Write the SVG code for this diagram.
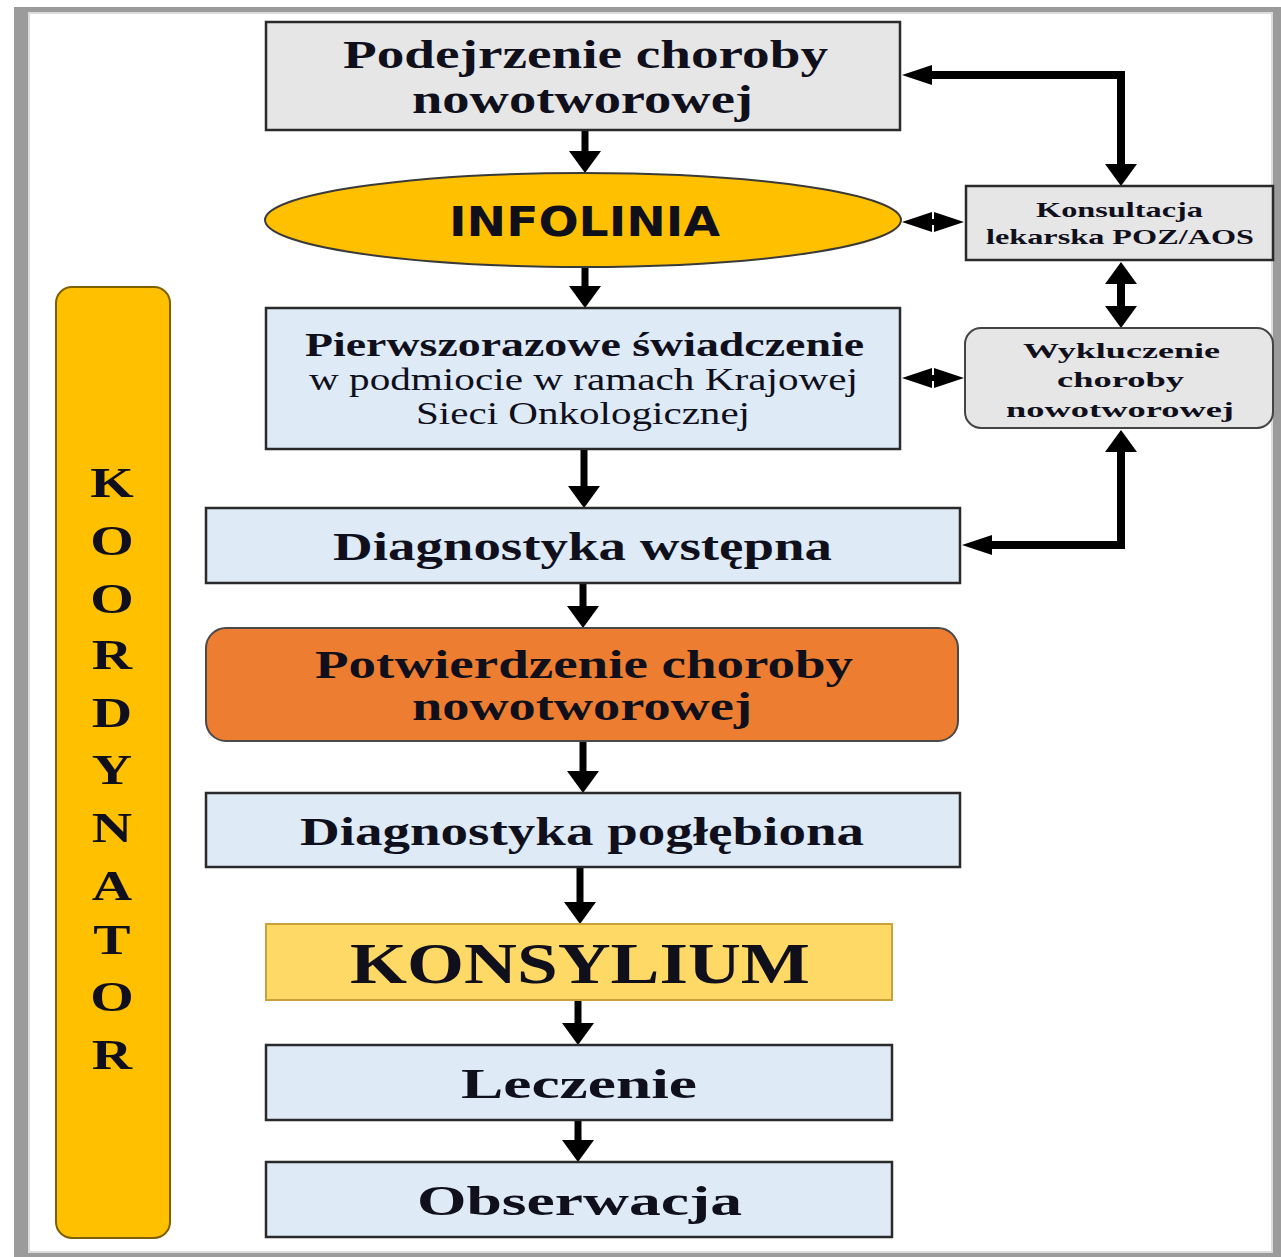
<svg xmlns="http://www.w3.org/2000/svg" width="1281" height="1257" viewBox="0 0 1281 1257">
<style>
.box{stroke:#2a2a2a;stroke-width:2.5}
.grey{fill:#e6e6e6}
.blue{fill:#deeaf6}
.t{font-family:"Liberation Serif","Times New Roman",serif;font-weight:bold;fill:#10101c}
.r{font-family:"Liberation Serif","Times New Roman",serif;font-weight:normal;fill:#10101c}
.s{font-family:"DejaVu Sans","Liberation Sans",sans-serif;font-weight:bold;fill:#10101c}
.c{fill:none;stroke:#000}
</style>
<defs>
<marker id="av" viewBox="0 0 22 32" refX="0" refY="16" markerWidth="22" markerHeight="32" markerUnits="userSpaceOnUse" orient="auto-start-reverse">
<path d="M0,0 L22,16 L0,32 z" fill="#000"/>
</marker>
<marker id="ah" viewBox="0 0 30 20" refX="0" refY="10" markerWidth="30" markerHeight="20" markerUnits="userSpaceOnUse" orient="auto-start-reverse">
<path d="M0,0 L30,10 L0,20 z" fill="#000"/>
</marker>
</defs>
<rect x="0" y="0" width="1281" height="1257" fill="#ffffff"/>
<rect x="14" y="7" width="1267" height="1250" fill="#9b9b9b"/>
<rect x="29" y="13" width="1243" height="1239" fill="#ffffff" stroke="#dcdcdc" stroke-width="2"/>

<g id="koordynator">
<rect x="56" y="287" width="114" height="951" rx="16" fill="#ffc000" stroke="#7f6000" stroke-width="2"/>
<g transform="translate(112 0) scale(1.3 1)" class="t" font-size="43" text-anchor="middle">
<text x="0" y="497">K</text>
<text x="0" y="555">O</text>
<text x="0" y="613">O</text>
<text x="0" y="669">R</text>
<text x="0" y="727">D</text>
<text x="0" y="784">Y</text>
<text x="0" y="842">N</text>
<text x="0" y="900">A</text>
<text x="0" y="954">T</text>
<text x="0" y="1011">O</text>
<text x="0" y="1069">R</text>
</g>
</g>

<g id="connectors">
<path class="c" stroke-width="7" d="M585,130 V151" marker-end="url(#av)"/>
<path class="c" stroke-width="7" d="M585,267 V286" marker-end="url(#av)"/>
<path class="c" stroke-width="7" d="M584,449 V486" marker-end="url(#av)"/>
<path class="c" stroke-width="7" d="M583,583 V606" marker-end="url(#av)"/>
<path class="c" stroke-width="7" d="M583,741 V771" marker-end="url(#av)"/>
<path class="c" stroke-width="7" d="M580,867 V902" marker-end="url(#av)"/>
<path class="c" stroke-width="7" d="M578,1000 V1023" marker-end="url(#av)"/>
<path class="c" stroke-width="7" d="M578,1120 V1140" marker-end="url(#av)"/>
<path class="c" stroke-width="8" d="M932,75 H1121 V164" marker-start="url(#ah)" marker-end="url(#av)"/>
<path class="c" stroke-width="8" d="M1121,452 V545 H992" marker-start="url(#av)" marker-end="url(#ah)"/>
<path class="c" stroke-width="6" d="M932,222 H934" marker-start="url(#ah)" marker-end="url(#ah)"/>
<path class="c" stroke-width="6" d="M932,378 H934" marker-start="url(#ah)" marker-end="url(#ah)"/>
<path class="c" stroke-width="8" d="M1121,284 V306" marker-start="url(#av)" marker-end="url(#av)"/>
</g>

<g id="podejrzenie">
<rect class="box grey" x="266" y="22" width="634" height="108"/>
<text class="t" font-size="40" x="343" y="68" textLength="485" lengthAdjust="spacingAndGlyphs">Podejrzenie choroby</text>
<text class="t" font-size="40" x="412" y="113" textLength="341" lengthAdjust="spacingAndGlyphs">nowotworowej</text>
</g>

<g id="infolinia">
<ellipse cx="583" cy="220" rx="318" ry="47" fill="#ffc000" stroke="#3a3a3a" stroke-width="2"/>
<text class="s" font-size="40" x="449" y="236" textLength="271" lengthAdjust="spacingAndGlyphs">INFOLINIA</text>
</g>

<g id="konsultacja">
<rect class="box grey" x="966" y="186" width="307" height="74"/>
<text class="t" font-size="21" x="1036" y="217" textLength="167" lengthAdjust="spacingAndGlyphs">Konsultacja</text>
<text class="t" font-size="21" x="986" y="244" textLength="268" lengthAdjust="spacingAndGlyphs">lekarska POZ/AOS</text>
</g>

<g id="pierwszorazowe">
<rect class="box blue" x="266" y="308" width="634" height="141"/>
<text class="t" font-size="33" x="305" y="356" textLength="559" lengthAdjust="spacingAndGlyphs">Pierwszorazowe świadczenie</text>
<text class="r" font-size="32" x="309" y="390" textLength="549" lengthAdjust="spacingAndGlyphs">w podmiocie w ramach Krajowej</text>
<text class="r" font-size="32" x="416" y="424" textLength="334" lengthAdjust="spacingAndGlyphs">Sieci Onkologicznej</text>
</g>

<g id="wykluczenie">
<rect class="grey" x="965" y="328" width="308" height="100" rx="16" stroke="#444" stroke-width="2"/>
<text class="t" font-size="22" x="1023" y="358" textLength="197" lengthAdjust="spacingAndGlyphs">Wykluczenie</text>
<text class="t" font-size="22" x="1057" y="387" textLength="127" lengthAdjust="spacingAndGlyphs">choroby</text>
<text class="t" font-size="22" x="1006" y="417" textLength="228" lengthAdjust="spacingAndGlyphs">nowotworowej</text>
</g>

<g id="diagnostyka-wstepna">
<rect class="box blue" x="206" y="508" width="754" height="75"/>
<text class="t" font-size="40" x="333" y="560" textLength="499" lengthAdjust="spacingAndGlyphs">Diagnostyka wstępna</text>
</g>

<g id="potwierdzenie">
<rect x="206" y="628" width="752" height="113" rx="20" fill="#ed7d31" stroke="#4a4a4a" stroke-width="2"/>
<text class="t" font-size="40" x="315" y="678" textLength="538" lengthAdjust="spacingAndGlyphs">Potwierdzenie choroby</text>
<text class="t" font-size="40" x="412" y="720" textLength="340" lengthAdjust="spacingAndGlyphs">nowotworowej</text>
</g>

<g id="diagnostyka-poglebiona">
<rect class="box blue" x="206" y="793" width="754" height="74"/>
<text class="t" font-size="40" x="300" y="845" textLength="564" lengthAdjust="spacingAndGlyphs">Diagnostyka pogłębiona</text>
</g>

<g id="konsylium">
<rect x="266" y="924" width="626" height="76" fill="#ffd966" stroke="#c9a33a" stroke-width="2"/>
<text class="t" font-size="56" x="350" y="983" textLength="460" lengthAdjust="spacingAndGlyphs">KONSYLIUM</text>
</g>

<g id="leczenie">
<rect class="box blue" x="266" y="1045" width="626" height="75"/>
<text class="t" font-size="42" x="461" y="1098" textLength="236" lengthAdjust="spacingAndGlyphs">Leczenie</text>
</g>

<g id="obserwacja">
<rect class="box blue" x="266" y="1162" width="626" height="75"/>
<text class="t" font-size="42" x="417" y="1215" textLength="325" lengthAdjust="spacingAndGlyphs">Obserwacja</text>
</g>
</svg>
